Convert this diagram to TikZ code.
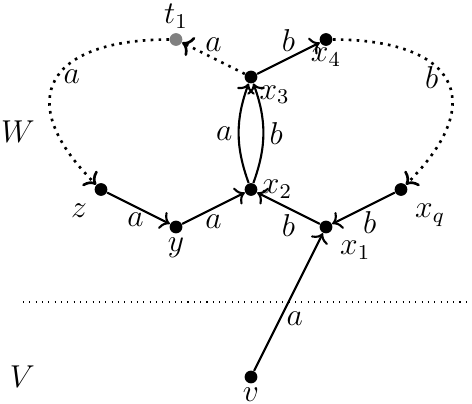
\documentclass[tikz,border=0pt]{standalone}
\usepackage{amsmath}
\usepackage{tikz}
\usetikzlibrary{arrows.meta, positioning}
\tikzset{
  vtx/.style={circle, fill=black, inner sep=0pt, minimum size=1.7mm},
  vtxgrey/.style={vtx, fill=gray},
  arr/.style={->, draw=black, thick},
  darr/.style={->, draw=black, line width=1pt, dotted},
  sep/.style={draw=black, thin, dotted},
  elbl/.style={inner sep=2pt},
}

\begin{document}
\begin{tikzpicture}[font=\large]
    \useasboundingbox (-3.347,-0.36) rectangle (2.947,5.027);

    \node[vtx]     (v)  at (0,0)     [label={[label distance=-2pt]below:$v$}] {};
    \node[vtx]     (x1) at (1,2)     [label=below right:$x_1$] {};
    \node[vtx]     (y)  at (-1,2)    [label={[label distance=-2pt]below:$y$}] {};
    \node[vtx]     (x2) at (0,2.5)   [label={[label distance=-2pt]right:$x_2$}] {};
    \node[vtx]     (z)  at (-2,2.5)  [label=below left:$z$] {};
    \node[vtx]     (xq) at (2,2.5)   [label=below right:$x_q$] {};
    \node[vtx]     (x3) at (0,4)     [label={[label distance=-3pt]below right:$x_3$}] {};
    \node[vtx]     (x4) at (1,4.5)   [label={[label distance=-3pt]below:$x_4$}] {};
    \node[vtxgrey] (t1) at (-1,4.5)  [label={[label distance=-2pt]above:$t_1$}] {};

    \node (W) at (-3.11,3.27) {$W$};
    \node (V) at (-3.05,0)    {$V$};

    \coordinate (sepL) at (-3.04,1);
    \coordinate (sepR) at (2.95,1);
    \draw[sep] (sepL) -- (sepR);

    \draw[arr] (z)  -- node[elbl, pos=.45, below] {$a$} (y);
    \draw[arr] (y)  -- node[elbl, below] {$a$} (x2);
    \draw[arr] (x1) -- node[elbl, below] {$b$} (x2);
    \draw[arr] (xq) -- node[elbl, pos=.4, below] {$b$} (x1);
    \draw[arr] (v)  -- node[elbl, pos=.38, right] {$a$} (x1);
    \draw[arr] (x2) to[bend left=20]  node[elbl, left]  {$a$} (x3);
    \draw[arr] (x2) to[bend right=20] node[elbl, right] {$b$} (x3);
    \draw[arr] (x3) -- node[elbl, above] {$b$} (x4);

    \draw[darr] (x3) -- node[elbl, above] {$a$} (t1);
    \draw[darr] (t1) to[out=180, in=135, looseness=1.9]
      node[elbl, pos=.48, right] {$a$} (z);
    \draw[darr] (x4) to[out=0, in=45, looseness=1.9]
      node[elbl, pos=.48, left] {$b$} (xq);
  \end{tikzpicture}
\end{document}
